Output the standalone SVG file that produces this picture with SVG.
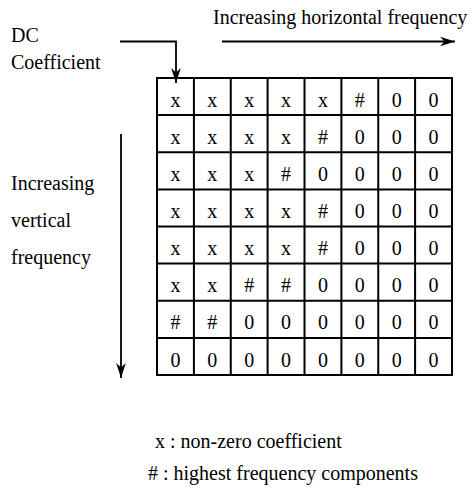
<svg xmlns="http://www.w3.org/2000/svg" width="474" height="493" viewBox="0 0 474 493">
  <style>
    text { font-family: "Liberation Serif", "Times New Roman", serif; font-size: 20px; fill: #000; }
    .cell text, text.c { text-anchor: middle; }
    .gl { stroke: #000; stroke-width: 2; fill: none; }
    .arr { stroke: #000; stroke-width: 1.8; fill: none; }
  </style>
  <defs>
    <marker id="ah" markerUnits="userSpaceOnUse" markerWidth="20" markerHeight="14" viewBox="-16 -7 18 14" refX="0" refY="0" orient="auto">
      <path d="M0,0 L-15,-4.8 L-10.5,0 L-15,4.8 Z" fill="#000"/>
    </marker>
  </defs>

  <g id="label-dc">
    <text x="11" y="42">DC</text>
    <text x="11" y="69">Coefficient</text>
  </g>
  <g id="label-horizontal">
    <text x="213" y="24">Increasing horizontal frequency</text>
  </g>
  <g id="label-vertical">
    <text x="11" y="190">Increasing</text>
    <text x="11" y="227">vertical</text>
    <text x="11" y="264">frequency</text>
  </g>

  <g id="connectors">
    <path class="arr" d="M120,41.5 H176 V83" marker-end="url(#ah)"/>
    <path class="arr" d="M222,41.5 H455" marker-end="url(#ah)"/>
    <path class="arr" d="M121,134 V378" marker-end="url(#ah)"/>
  </g>

  <g id="grid">
    <rect class="gl" x="157" y="78" width="295" height="297"/>
    <path class="gl" d="M193.9,78V375 M230.75,78V375 M267.6,78V375 M304.5,78V375 M341.4,78V375 M378.25,78V375 M415.1,78V375
                        M157,115.1H452 M157,152.25H452 M157,189.4H452 M157,226.5H452 M157,263.6H452 M157,300.75H452 M157,337.9H452"/>
  </g>

  <g id="cells" class="cell">
    <g id="row1">
      <text x="175.4" y="106.6">x</text><text x="212.3" y="106.6">x</text><text x="249.2" y="106.6">x</text><text x="286" y="106.6">x</text>
      <text x="323" y="106.6">x</text><text x="359.8" y="106.6">#</text><text x="396.7" y="106.6">0</text><text x="433.6" y="106.6">0</text>
    </g>
    <g id="row2">
      <text x="175.4" y="143.7">x</text><text x="212.3" y="143.7">x</text><text x="249.2" y="143.7">x</text><text x="286" y="143.7">x</text>
      <text x="323" y="143.7">#</text><text x="359.8" y="143.7">0</text><text x="396.7" y="143.7">0</text><text x="433.6" y="143.7">0</text>
    </g>
    <g id="row3">
      <text x="175.4" y="180.8">x</text><text x="212.3" y="180.8">x</text><text x="249.2" y="180.8">x</text><text x="286" y="180.8">#</text>
      <text x="323" y="180.8">0</text><text x="359.8" y="180.8">0</text><text x="396.7" y="180.8">0</text><text x="433.6" y="180.8">0</text>
    </g>
    <g id="row4">
      <text x="175.4" y="218">x</text><text x="212.3" y="218">x</text><text x="249.2" y="218">x</text><text x="286" y="218">x</text>
      <text x="323" y="218">#</text><text x="359.8" y="218">0</text><text x="396.7" y="218">0</text><text x="433.6" y="218">0</text>
    </g>
    <g id="row5">
      <text x="175.4" y="255.1">x</text><text x="212.3" y="255.1">x</text><text x="249.2" y="255.1">x</text><text x="286" y="255.1">x</text>
      <text x="323" y="255.1">#</text><text x="359.8" y="255.1">0</text><text x="396.7" y="255.1">0</text><text x="433.6" y="255.1">0</text>
    </g>
    <g id="row6">
      <text x="175.4" y="292.2">x</text><text x="212.3" y="292.2">x</text><text x="249.2" y="292.2">#</text><text x="286" y="292.2">#</text>
      <text x="323" y="292.2">0</text><text x="359.8" y="292.2">0</text><text x="396.7" y="292.2">0</text><text x="433.6" y="292.2">0</text>
    </g>
    <g id="row7">
      <text x="175.4" y="329.3">#</text><text x="212.3" y="329.3">#</text><text x="249.2" y="329.3">0</text><text x="286" y="329.3">0</text>
      <text x="323" y="329.3">0</text><text x="359.8" y="329.3">0</text><text x="396.7" y="329.3">0</text><text x="433.6" y="329.3">0</text>
    </g>
    <g id="row8">
      <text x="175.4" y="366.5">0</text><text x="212.3" y="366.5">0</text><text x="249.2" y="366.5">0</text><text x="286" y="366.5">0</text>
      <text x="323" y="366.5">0</text><text x="359.8" y="366.5">0</text><text x="396.7" y="366.5">0</text><text x="433.6" y="366.5">0</text>
    </g>
  </g>

  <g id="legend">
    <text x="155" y="448">x : non-zero coefficient</text>
    <text x="148" y="480">#  : highest frequency components</text>
  </g>
</svg>
